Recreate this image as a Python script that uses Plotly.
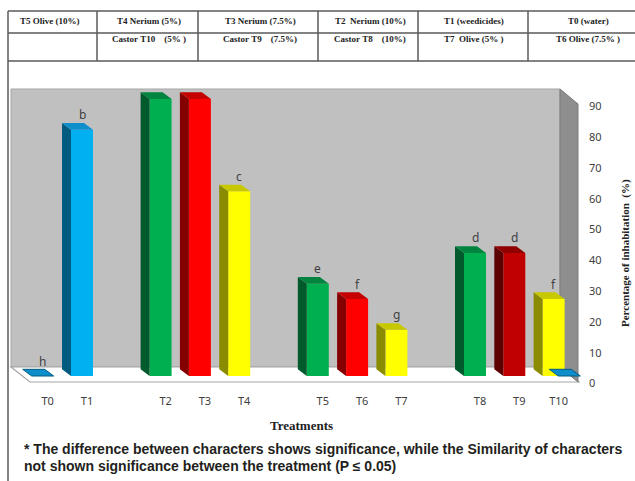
import plotly.graph_objects as go

# ---- data -------------------------------------------------------------
treatments = ["T0", "T1", "T2", "T3", "T4", "T5", "T6", "T7", "T8", "T9", "T10"]
inhibition = [0, 80, 90, 90, 60, 30, 25, 15, 40, 40, 25]
letters = ["h", "b", "", "", "c", "e", "f", "g", "d", "d", "f"]
slots = [0, 1, 3, 4, 5, 7, 8, 9, 11, 12, 13]
bar_colours = ["blue", "blue", "green", "red", "yellow",
               "green", "red", "yellow", "green", "darkred", "yellow"]

# trailing empty bar of the blue series at the right end of the floor
edge_slot = [13.4]
edge_value = [0]
edge_colour = ["blue"]

y_ticks = [0, 10, 20, 30, 40, 50, 60, 70, 80, 90]

header_row = ["T5 Olive (10%)", "T4 Nerium (5%)", "T3 Nerium (7.5%)",
              "T2  Nerium (10%)", "T1 (weedicides)", "T0 (water)"]
second_row = ["", "Castor T10    (5% )", "Castor T9    (7.5%)",
              "Castor T8    (10%)", "T7  Olive (5% )", "T6 Olive (7.5% )"]

footnote = ["* The difference between characters shows significance, while the Similarity of characters",
            "not shown significance between the treatment (P \u2264 0.05)"]

# ---- geometry of the pseudo-3D view ------------------------------------
W, H = 635, 481
SLOT_PX = 39.3          # pixels between neighbouring bar slots
X0_PX = 47.7            # pixel position of slot 0
PPU = 277 / 90          # pixels per percentage unit
BASE_PX = 376           # pixel row of the bar bases (front face)
AXIS0_PX = 383.5        # pixel row of the "0" tick label

FRONT_SHIFT = -5 / SLOT_PX
HALF_W = 11 / SLOT_PX
DEPTH_X = -9 / SLOT_PX
DEPTH_Y = 6.7 / PPU

palette = {
    "blue":    dict(front="#00b0f0", side="#005b80", top="#0e8fcc"),
    "green":   dict(front="#00b050", side="#005a2b", top="#00843e"),
    "red":     dict(front="#ff0000", side="#850000", top="#c40000"),
    "yellow":  dict(front="#ffff00", side="#8b8b00", top="#c8c800"),
    "darkred": dict(front="#c00000", side="#5c0000", top="#900000"),
}


def px_x(px):
    return px / W


def px_y(py):
    return 1 - py / H


fig = go.Figure()

# front faces of the bars
fig.add_trace(go.Bar(
    x=[s + FRONT_SHIFT for s in slots],
    y=inhibition,
    width=[2 * HALF_W] * len(slots),
    marker=dict(color=[palette[c]["front"] for c in bar_colours], line=dict(width=0)),
    hoverinfo="skip",
    showlegend=False,
))


def add_faces(slot, value, colour):
    cx = slot + FRONT_SHIFT
    xl, xr = cx - HALF_W, cx + HALF_W
    p = palette[colour]
    if value > 0:
        # left side face
        fig.add_trace(go.Scatter(
            x=[xl, xl, xl + DEPTH_X, xl + DEPTH_X, xl],
            y=[0, value, value + DEPTH_Y, DEPTH_Y, 0],
            fill="toself", fillcolor=p["side"], mode="lines",
            line=dict(width=0, color=p["side"]),
            hoverinfo="skip", showlegend=False))
        line_w = 0
    else:
        line_w = 1
    # top face
    fig.add_trace(go.Scatter(
        x=[xl, xr, xr + DEPTH_X, xl + DEPTH_X, xl],
        y=[value, value, value + DEPTH_Y, value + DEPTH_Y, value],
        fill="toself", fillcolor=p["top"], mode="lines",
        line=dict(width=line_w, color=p["side"]),
        hoverinfo="skip", showlegend=False))


for s, v, c in zip(slots, inhibition, bar_colours):
    add_faces(s, v, c)
for s, v, c in zip(edge_slot, edge_value, edge_colour):
    add_faces(s, v, c)

# dummy trace so the labelled right-hand axis is rendered
fig.add_trace(go.Scatter(x=[None], y=[None], yaxis="y2", showlegend=False, hoverinfo="skip"))

# significance letters above the bars
annotations = []
for s, v, t in zip(slots, inhibition, letters):
    if t:
        annotations.append(dict(
            x=s + FRONT_SHIFT, y=v, xref="x", yref="y", text=t, showarrow=False,
            yanchor="middle", yshift=15,
            font=dict(family="Noto Sans, sans-serif", size=12, color="#404040")))

# ---- walls and floor ----------------------------------------------------
def poly(points):
    d = "M " + " L ".join(f"{px_x(a):.5f},{px_y(b):.5f}" for a, b in points) + " Z"
    return d


shapes = [
    dict(type="path", xref="paper", yref="paper", layer="below",
         path=poly([(11, 89), (560, 89), (560, 367), (11, 367)]),
         fillcolor="#c0c0c0", line=dict(color="#a6a6a6", width=1)),
    dict(type="path", xref="paper", yref="paper", layer="below",
         path=poly([(11, 367), (560, 367), (579, 382), (30, 382)]),
         fillcolor="#ffffff", line=dict(color="#a6a6a6", width=1.2)),
    dict(type="path", xref="paper", yref="paper", layer="below",
         path=poly([(560, 89), (578, 104), (578, 382), (560, 367)]),
         fillcolor="#8e8e8e", line=dict(color="#7a7a7a", width=1)),
]

# ---- table above the chart ----------------------------------------------
grid = "#5a5a5a"
for yy in (11, 33, 61):
    shapes.append(dict(type="line", xref="paper", yref="paper",
                       x0=px_x(8), x1=px_x(635), y0=px_y(yy), y1=px_y(yy),
                       line=dict(color=grid, width=1.5)))
for xx in (97, 198, 318, 418, 528):
    shapes.append(dict(type="line", xref="paper", yref="paper",
                       x0=px_x(xx), x1=px_x(xx), y0=px_y(11), y1=px_y(61),
                       line=dict(color=grid, width=1.5)))
shapes.append(dict(type="line", xref="paper", yref="paper",
                   x0=px_x(8), x1=px_x(8), y0=px_y(11), y1=px_y(481),
                   line=dict(color=grid, width=1.5)))

cell_centres = [None, 149, 260, 370, 474, 588]
table_font = dict(family="Liberation Serif, Times New Roman, serif", size=9, color="#222222")
for i, (h1, h2) in enumerate(zip(header_row, second_row)):
    if i == 0:
        annotations.append(dict(x=px_x(18), y=px_y(21), xref="paper", yref="paper",
                                text=f"<b>{h1}</b>", showarrow=False,
                                xanchor="left", yanchor="middle", font=table_font))
        continue
    annotations.append(dict(x=px_x(cell_centres[i]), y=px_y(21), xref="paper", yref="paper",
                            text=f"<b>{h1}</b>", showarrow=False,
                            xanchor="center", yanchor="middle", font=table_font))
    annotations.append(dict(x=px_x(cell_centres[i]), y=px_y(39), xref="paper", yref="paper",
                            text=f"<b>{h2.replace(' ', '&nbsp;')}</b>", showarrow=False,
                            xanchor="center", yanchor="middle", font=table_font))

# ---- axis titles and footnote ------------------------------------------
annotations.append(dict(x=px_x(301), y=px_y(425), xref="paper", yref="paper",
                        text="<b>Treatments</b>", showarrow=False,
                        xanchor="center", yanchor="middle",
                        font=dict(family="Liberation Serif, serif", size=13, color="#222222")))
annotations.append(dict(x=px_x(625), y=px_y(253), xref="paper", yref="paper",
                        text="<b>Percentage of inhabitation&nbsp;&nbsp;(%)</b>", showarrow=False,
                        textangle=-90, xanchor="center", yanchor="middle",
                        font=dict(family="Liberation Serif, serif", size=11, color="#222222")))
for line, yy in zip(footnote, (449, 466)):
    annotations.append(dict(x=px_x(22), y=px_y(yy), xref="paper", yref="paper",
                            text=f"<b>{line}</b>", showarrow=False,
                            xanchor="left", yanchor="middle",
                            font=dict(family="Liberation Sans, Arial, sans-serif",
                                      size=14, color="#231f20")))

fig.update_layout(
    width=W, height=H,
    margin=dict(l=0, r=0, t=0, b=0),
    paper_bgcolor="white", plot_bgcolor="white",
    barmode="overlay",
    showlegend=False,
    shapes=shapes,
    annotations=annotations,
    xaxis=dict(range=[-X0_PX / SLOT_PX, (W - X0_PX) / SLOT_PX],
               tickvals=slots, ticktext=treatments,
               showgrid=False, zeroline=False, showline=False, ticks="",
               anchor="free", position=px_y(393),
               tickfont=dict(family="Noto Sans, sans-serif", size=11, color="#404040")),
    yaxis=dict(range=[-(H - BASE_PX) / PPU, BASE_PX / PPU], domain=[0, 1],
               visible=False, fixedrange=True),
    yaxis2=dict(range=[-(H - AXIS0_PX) / PPU, AXIS0_PX / PPU], overlaying="y",
                side="right", anchor="free", position=px_x(588),
                tickvals=y_ticks, showgrid=False, zeroline=False, showline=False, ticks="",
                tickfont=dict(family="Noto Sans, sans-serif", size=11, color="#404040")),
)

fig.write_html("out.html")
